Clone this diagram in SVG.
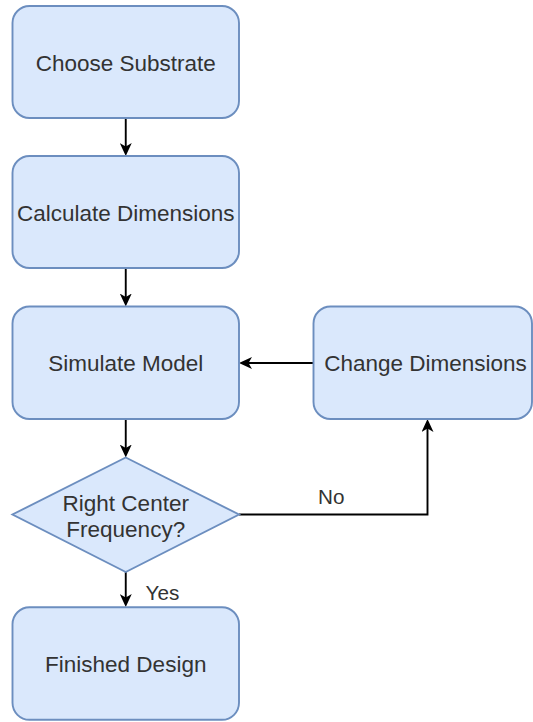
<svg xmlns="http://www.w3.org/2000/svg" width="533" height="722" viewBox="0 0 533 722">
<style>
.box{fill:#dae8fc;stroke:#6c8ebf;stroke-width:1.9}
.t{font-family:"Liberation Sans",Arial,Helvetica,sans-serif;font-size:22.5px;fill:#333333;text-anchor:middle}
.lbl{font-family:"Liberation Sans",Arial,Helvetica,sans-serif;font-size:20.7px;fill:#333333}
.e{fill:none;stroke:#000000;stroke-width:1.9}
</style>
<defs>
<marker id="arr" markerUnits="userSpaceOnUse" viewBox="0 0 13 12" markerWidth="13" markerHeight="12" refX="7" refY="6" orient="auto">
<path d="M0,0 L13,6 L0,12 L3.5,6 Z" fill="#000000"/>
</marker>
</defs>
<rect width="533" height="722" fill="#ffffff"/>
<g id="connectors">
<path class="e" d="M125.75,118 L125.75,150" marker-end="url(#arr)"/>
<path class="e" d="M125.75,268 L125.75,300.5" marker-end="url(#arr)"/>
<path class="e" d="M125.75,419 L125.75,451.5" marker-end="url(#arr)"/>
<path class="e" d="M125.75,572 L125.75,601" marker-end="url(#arr)"/>
<path class="e" d="M313.5,363 L245,363" marker-end="url(#arr)"/>
<path class="e" d="M239,514.5 L427.5,514.5 L427.5,425" marker-end="url(#arr)"/>
<text class="lbl" x="318" y="503.5">No</text>
<text class="lbl" x="145.5" y="600">Yes</text>
</g>
<g id="choose-substrate">
<rect class="box" x="12.5" y="6" width="226.5" height="112" rx="17" ry="17"/>
<text class="t" x="125.75" y="70.5">Choose Substrate</text>
</g>
<g id="calculate-dimensions">
<rect class="box" x="12.5" y="156" width="226.5" height="112" rx="17" ry="17"/>
<text class="t" x="125.75" y="220.5">Calculate Dimensions</text>
</g>
<g id="simulate-model">
<rect class="box" x="12.5" y="306.5" width="226.5" height="112.5" rx="17" ry="17"/>
<text class="t" x="125.75" y="371">Simulate Model</text>
</g>
<g id="change-dimensions">
<rect class="box" x="313.5" y="306.5" width="218.5" height="112.5" rx="17" ry="17"/>
<text class="t" x="425.5" y="371">Change Dimensions</text>
</g>
<g id="right-center-frequency">
<polygon class="box" points="125.75,457.5 239,514.5 125.75,572 12.5,514.5"/>
<text class="t" x="125.75" y="510.5">Right Center</text>
<text class="t" x="125.75" y="536.5">Frequency?</text>
</g>
<g id="finished-design">
<rect class="box" x="12.5" y="607.3" width="226.5" height="112.5" rx="17" ry="17"/>
<text class="t" x="125.75" y="672">Finished Design</text>
</g>
</svg>
